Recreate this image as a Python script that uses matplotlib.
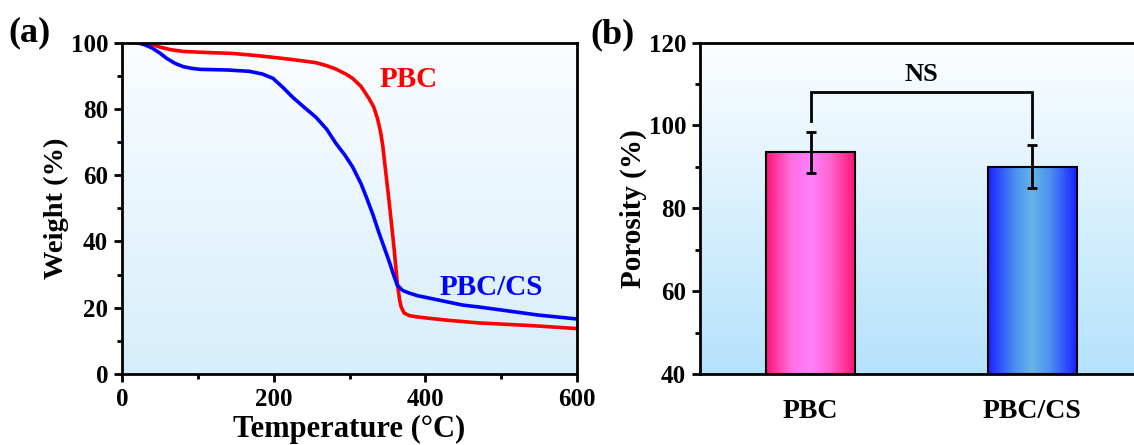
import numpy as np
import matplotlib
matplotlib.use("Agg")
import matplotlib.pyplot as plt
from matplotlib.colors import LinearSegmentedColormap
from matplotlib.ticker import MultipleLocator

plt.rcParams['font.family'] = ['Liberation Serif', 'DejaVu Serif']
plt.rcParams['font.weight'] = 'bold'

# ---- data: panel (a) TGA ----
pbc_temp = [30, 40, 50, 65, 81, 110, 146, 180, 212, 240, 256, 270, 282, 295, 304, 315, 326, 332,
            337, 341, 344, 348, 352, 356, 359, 363, 366, 368, 372, 379, 390, 405, 430, 471, 540, 600]
pbc_weight = [100, 99.4, 98.6, 97.8, 97.3, 97.0, 96.7, 96.0, 95.2, 94.4, 93.9, 93.0, 92.0, 90.5,
              89.2, 86.8, 83.0, 80.5, 77.0, 73.0, 68.6, 60.5, 52.5, 44.0, 37.4, 27.4, 22.5, 20.3,
              18.4, 17.6, 17.2, 16.8, 16.2, 15.4, 14.6, 13.7]
pbccs_temp = [19, 30, 40, 50, 59, 70, 81, 92, 103, 140, 168, 185, 199, 212, 225, 240, 256, 270,
              282, 294, 304, 315, 322, 331, 339, 346, 353, 358, 363, 370, 379, 390, 405, 449, 471,
              510, 548, 600]
pbccs_weight = [100, 99.3, 98.3, 96.8, 95.2, 93.7, 92.7, 92.2, 91.9, 91.7, 91.3, 90.5, 89.2, 86.5,
                83.5, 80.5, 77.4, 73.8, 69.6, 66.0, 62.5, 57.5, 53.5, 48.0, 42.5, 38.0, 33.5, 30.0,
                26.8, 25.2, 24.4, 23.6, 22.9, 20.8, 20.2, 19.0, 17.8, 16.6]

# ---- data: panel (b) porosity ----
categories = ['PBC', 'PBC/CS']
porosity = [93.5, 90.0]
porosity_err = [5.0, 5.2]
sig_label = 'NS'

W, H = 1134, 445
fig = plt.figure(figsize=(W / 100, H / 100), dpi=100)

def px_axes(l, r, t, b):
    return fig.add_axes([l / W, (H - b) / H, (r - l) / W, (b - t) / H])

def bg_gradient(ax, top, bottom):
    cmap = LinearSegmentedColormap.from_list('bg', [bottom, top])
    grad = np.linspace(0, 1, 256).reshape(-1, 1)
    ax.imshow(grad, cmap=cmap, aspect='auto', extent=(0, 1, 0, 1),
              transform=ax.transAxes, origin='lower', zorder=0, interpolation='bicubic')

def style_axes(ax):
    for s in ax.spines.values():
        s.set_linewidth(2.0)
        s.set_zorder(5)
    ax.tick_params(which='major', direction='out', length=6, width=2, labelsize=18, pad=4)
    ax.tick_params(which='minor', direction='out', length=3.5, width=2)
    ax.tick_params(top=False, right=False, which='both')

# ---------- panel (a) ----------
ax1 = px_axes(122, 577, 42.5, 374)
bg_gradient(ax1, '#fbfdff', '#d6eefb')
ax1.plot(pbc_temp, pbc_weight, color='#ff0000', lw=2.6, zorder=3)
ax1.plot(pbccs_temp, pbccs_weight, color='#0000ff', lw=2.6, zorder=3)
ax1.set_xlim(0, 600)
ax1.set_ylim(0, 100)
ax1.xaxis.set_major_locator(MultipleLocator(200))
ax1.xaxis.set_minor_locator(MultipleLocator(100))
ax1.yaxis.set_major_locator(MultipleLocator(20))
ax1.yaxis.set_minor_locator(MultipleLocator(10))
style_axes(ax1)
ax1.set_xlabel('Temperature (°C)', fontsize=22, fontweight='bold', labelpad=3)
ax1.set_ylabel('Weight (%)', fontsize=20.5, fontweight='bold', labelpad=1)
ax1.text(339, 88.7, 'PBC', color='#ff0000', fontsize=21, fontweight='bold',
         ha='left', va='center', zorder=4)
ax1.text(419, 26.2, 'PBC/CS', color='#0000ff', fontsize=21, fontweight='bold',
         ha='left', va='center', zorder=4)
fig.text(8 / W, 1 - 33 / H, '(a)', fontsize=26, fontweight='bold', ha='left', va='center')

# ---------- panel (b) ----------
ax2 = px_axes(700, 1143, 42.5, 374)
bg_gradient(ax2, '#fdfeff', '#b5e2fb')
ax2.set_xlim(-0.5, 1.5)
ax2.set_ylim(40, 120)
x = np.arange(len(categories))
bar_w = 0.40
bar_cmaps = [
    LinearSegmentedColormap.from_list('pink', [(0, '#ff1475'), (0.28, '#ff6fe0'), (0.5, '#ff80ff'),
                                               (0.72, '#ff66d0'), (1, '#ff1475')]),
    LinearSegmentedColormap.from_list('blue', [(0, '#1a22ff'), (0.3, '#4b8ff2'), (0.5, '#66b5e6'),
                                               (0.7, '#4b8ff2'), (1, '#1a22ff')]),
]
ymin = ax2.get_ylim()[0]
for xi, val, cm in zip(x, porosity, bar_cmaps):
    grad = np.linspace(0, 1, 256).reshape(1, -1)
    ax2.imshow(grad, cmap=cm, aspect='auto', extent=(xi - bar_w / 2, xi + bar_w / 2, ymin, val),
               zorder=2, interpolation='bicubic')
ax2.bar(x, np.array(porosity) - ymin, bottom=ymin, width=bar_w, facecolor='none',
        edgecolor='black', linewidth=1.5, zorder=3)
ax2.errorbar(x, porosity, yerr=porosity_err, fmt='none', ecolor='black', elinewidth=2,
             capsize=3.5, capthick=2, zorder=4)
ax2.set_xlim(-0.5, 1.5)
ax2.set_ylim(40, 120)
ax2.set_xticks(x)
ax2.set_xticklabels(categories)
ax2.yaxis.set_major_locator(MultipleLocator(20))
ax2.yaxis.set_minor_locator(MultipleLocator(10))
style_axes(ax2)
ax2.tick_params(axis='x', which='both', length=0, labelsize=20, pad=18)
ax2.set_ylabel('Porosity (%)', fontsize=21, fontweight='bold', labelpad=1)

# significance bracket
br_top = 108.0
leg_bottoms = [101.0, 97.2]
ax2.plot([x[0], x[0], x[1], x[1]], [leg_bottoms[0], br_top, br_top, leg_bottoms[1]],
         color='black', lw=2, zorder=4, solid_joinstyle='miter')
ax2.text((x[0] + x[1]) / 2, br_top + 1.5, sig_label, fontsize=19, fontweight='bold',
         ha='center', va='bottom', zorder=4)
fig.text(590 / W, 1 - 35 / H, '(b)', fontsize=26, fontweight='bold', ha='left', va='center')

fig.savefig('out.png', dpi=100)
